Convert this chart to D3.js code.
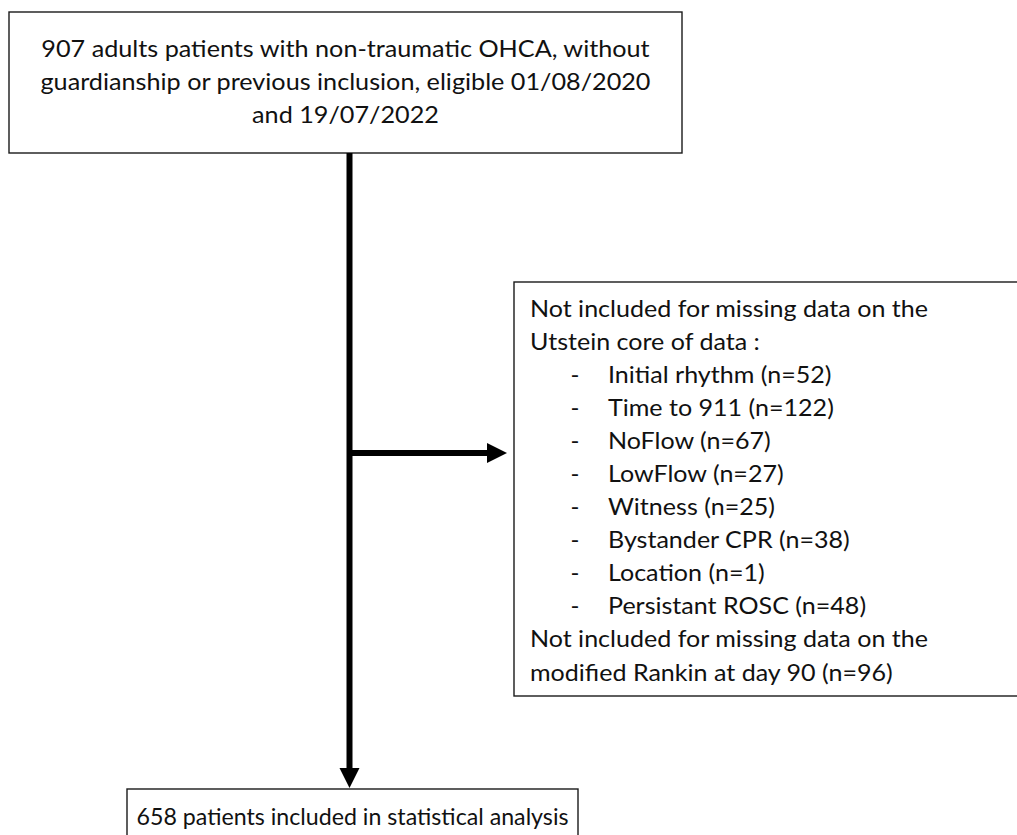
<!DOCTYPE html>
<html>
<head>
<meta charset="utf-8">
<script src="https://cdn.jsdelivr.net/npm/d3@7"></script>
<style>
	html, body { margin: 0; padding: 0; background: #fff; }
	svg { display: block; }
	text { font-family: Lato, "Open Sans", sans-serif; fill: #111; }
</style>
</head>
<body>
<div id="flow"></div>
<script>

// flow counts
let eligibleCount = 907
let includedCount = 658
let rankinMissing = 96

let topLines = [
	eligibleCount + ' adults patients with non-traumatic OHCA, without',
	'guardianship or previous inclusion, eligible 01/08/2020',
	'and 19/07/2022'
]

let utsteinHeader = ['Not included for missing data on the', 'Utstein core of data :']

let missingItems = ['Initial rhythm', 'Time to 911', 'NoFlow', 'LowFlow', 'Witness',
	'Bystander CPR', 'Location', 'Persistant ROSC']

let missingCounts = [52, 122, 67, 27, 25, 38, 1, 48]

let rankinLines = ['Not included for missing data on the',
	'modified Rankin at day ' + 90 + ' (n=' + rankinMissing + ')']

let bottomLine = includedCount + ' patients included in statistical analysis'


let width = 1017
let height = 835
let fontSize = 24

const svg = d3.select('#flow')
	.append('svg')
	.attr('width', width)
	.attr('height', height)

// boxes
let topBox = {x: 9, y: 12, w: 673, h: 141}
let sideBox = {x: 514, y: 282, w: 530, h: 414}
let bottomBox = {x: 127, y: 789, w: 451, h: 80}

svg.selectAll('.box')
	.data([topBox, sideBox, bottomBox])
	.enter()
	.append('rect')
	.attr('class', 'box')
	.attr('x', d => d.x)
	.attr('y', d => d.y)
	.attr('width', d => d.w)
	.attr('height', d => d.h)
	.attr('fill', 'white')
	.attr('stroke', '#1a1a1a')
	.attr('stroke-width', 1.4)

// squeeze a group of lines so its reference line fits the wanted width
function fitLines(sel, refIndex, wanted){
	let nodes = sel.nodes()
	let k = wanted / nodes[refIndex].getComputedTextLength()
	nodes.forEach(function(n){
		let w = n.getComputedTextLength()
		n.setAttribute('textLength', w * k)
		n.setAttribute('lengthAdjust', 'spacingAndGlyphs')
	})
}

// top box text
let topY = d3.scaleLinear().domain([0, 2]).range([57, 123])
let topText = svg.selectAll('.topLine')
	.data(topLines)
	.enter()
	.append('text')
	.attr('class', 'topLine')
	.attr('x', topBox.x + topBox.w / 2)
	.attr('y', (d, i) => topY(i))
	.attr('text-anchor', 'middle')
	.attr('font-size', fontSize)
	.text(d => d)
fitLines(topText, 1, 610)

// side box text, 12 lines one below the other
let sideRows = []
utsteinHeader.forEach(d => sideRows.push({text: d, item: false}))
missingItems.forEach((d, i) => sideRows.push({text: d + ' (n=' + missingCounts[i] + ')', item: true}))
rankinLines.forEach(d => sideRows.push({text: d, item: false}))

let sideY = d3.scaleLinear()
	.domain([0, sideRows.length - 1])
	.range([316.5, 680.5])

let textLeft = 530
let dashX = 575
let itemLeft = 608

let sideText = svg.selectAll('.sideLine')
	.data(sideRows)
	.enter()
	.append('text')
	.attr('class', 'sideLine')
	.attr('x', d => d.item ? itemLeft : textLeft)
	.attr('y', (d, i) => sideY(i))
	.attr('font-size', fontSize)
	.text(d => d.text)
fitLines(sideText, 0, 398)

svg.selectAll('.dash')
	.data(sideRows.filter(d => d.item))
	.enter()
	.append('text')
	.attr('class', 'dash')
	.attr('x', dashX)
	.attr('y', d => sideY(sideRows.indexOf(d)))
	.attr('text-anchor', 'middle')
	.attr('font-size', fontSize)
	.text('-')

// bottom box text
let bottomText = svg.append('text')
	.attr('x', bottomBox.x + bottomBox.w / 2)
	.attr('y', 825)
	.attr('text-anchor', 'middle')
	.attr('font-size', fontSize)
	.text(bottomLine)
fitLines(bottomText, 0, 432)

// arrows
let lineX = 349.5
let branchY = 453
let head = 20

svg.append('line')
	.attr('x1', lineX).attr('y1', topBox.y + topBox.h)
	.attr('x2', lineX).attr('y2', bottomBox.y - head + 1)
	.attr('stroke', 'black')
	.attr('stroke-width', 6)

svg.append('line')
	.attr('x1', lineX).attr('y1', branchY)
	.attr('x2', sideBox.x - 7 - head + 1).attr('y2', branchY)
	.attr('stroke', 'black')
	.attr('stroke-width', 6)

let tri = d3.line().x(d => d[0]).y(d => d[1])

let downTip = [lineX, bottomBox.y - 1]
let rightTip = [sideBox.x - 7, branchY]

svg.append('path')
	.attr('d', tri([[downTip[0] - 10, downTip[1] - head], [downTip[0] + 10, downTip[1] - head], downTip]) + 'Z')
	.attr('fill', 'black')

svg.append('path')
	.attr('d', tri([[rightTip[0] - head, rightTip[1] - 10], [rightTip[0] - head, rightTip[1] + 10], rightTip]) + 'Z')
	.attr('fill', 'black')

</script>
</body>
</html>
